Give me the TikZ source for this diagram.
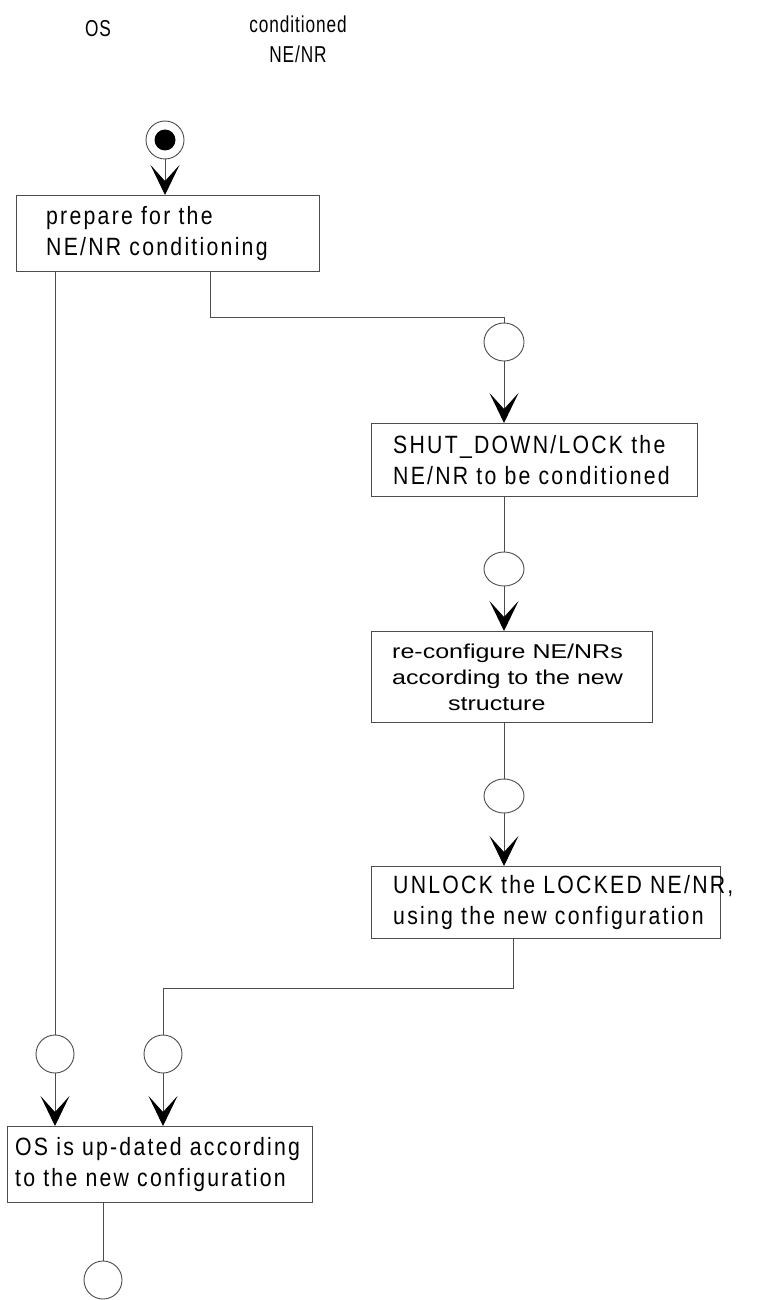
\documentclass[tikz,border=0pt]{standalone}
\usepackage{fontspec}
\setmainfont{Liberation Sans}
\newfontfamily\spfont[FakeStretch=0.85,LetterSpace=9]{Liberation Sans}
\newfontfamily\wfont[FakeStretch=1.25]{Liberation Sans}
\newfontfamily\tfont[FakeStretch=0.75,LetterSpace=4]{Liberation Sans}
\usetikzlibrary{arrows.meta,calc,shapes.geometric}
\definecolor{ln}{gray}{0.3}
\tikzset{
  box/.style={draw=ln, line width=0.9pt, rectangle, inner sep=0pt, anchor=north west},
  txt/.style={anchor=west, align=left, inner sep=0pt, font=\spfont\fontsize{25}{31}\selectfont},
  wtxt/.style={anchor=west, align=left, inner sep=0pt, font=\wfont\fontsize{20}{26}\selectfont},
  ttl/.style={inner sep=0pt, align=center, font=\tfont\fontsize{23}{30}\selectfont},
  conn/.style={draw=ln, line width=0.9pt},
  flow/.style={conn, -{Stealth[length=30pt,width=29pt,inset=16pt,black]}},
  circ/.style={draw=ln, line width=0.9pt, ellipse, inner sep=0pt, minimum width=38pt, minimum height=38pt}
}
\begin{document}
\begin{tikzpicture}[x=1pt,y=-1pt]
\useasboundingbox (0,0) rectangle (760,1300);
\fill[white] (0,0) rectangle (760,1300);

% titles
\node[ttl] (os) at (98,29) {OS};
\node[ttl] (cond) at (298,39) {conditioned\\NE/NR};

% start
\node[circ] (start) at (165,140) {};
\node[circle, fill=black, inner sep=0pt, minimum size=21pt] (startdot) at (start.center) {};

% boxes
\node[box, minimum width=303pt, minimum height=76pt] (b1) at (16,195) {};
\node[txt] (t1) at ($(b1.west)+(30,0)$) {prepare for the\\NE/NR conditioning};

\node[box, minimum width=326pt, minimum height=73pt] (b2) at (371,423) {};
\node[txt] (t2) at ($(b2.west)+(22,0)$) {SHUT\_DOWN/LOCK the\\NE/NR to be conditioned};

\node[box, minimum width=281pt, minimum height=91pt] (b3) at (371,631) {};
\node[wtxt] (t3) at ($(b3.west)+(21,0)$) {re-configure NE/NRs\\according to the new\\\hspace*{56pt}structure};

\node[box, minimum width=349pt, minimum height=72pt] (b4) at (371,866) {};
\node[txt] (t4) at ($(b4.west)+(22,0)$) {UNLOCK the LOCKED NE/NR,\\using the new configuration};

\node[box, minimum width=305pt, minimum height=76pt] (b5) at (7,1126) {};
\node[txt] (t5) at ($(b5.west)+(8,0)$) {OS is up-dated according\\to the new configuration};

% circles
\node[circ, minimum width=40pt] (c1) at (504,342) {};
\node[circ, minimum width=40pt, minimum height=34pt] (c2) at (504,569) {};
\node[circ, minimum width=40pt, minimum height=34pt] (c3) at (504,796) {};
\node[circ] (cL) at (55,1054) {};
\node[circ] (c5) at (163,1054) {};
\node[circ] (cE) at (103,1280) {};

\coordinate (j1) at (210,317);
\coordinate (j2) at (513,988);

% connectors
\draw[flow] (start) -- (b1.north -| start);
\draw[conn] (b1.south -| cL) -- (cL);
\draw[flow] (cL) -- (b5.north -| cL);
\draw[conn] (b1.south -| j1) -- (j1) -| (c1);
\draw[flow] (c1) -- (b2.north -| c1);
\draw[conn] (b2.south -| c2) -- (c2);
\draw[flow] (c2) -- (b3.north -| c2);
\draw[conn] (b3.south -| c3) -- (c3);
\draw[flow] (c3) -- (b4.north -| c3);
\draw[conn] (b4.south -| j2) -- (j2) -| (c5);
\draw[flow] (c5) -- (b5.north -| c5);
\draw[conn] (b5.south -| cE) -- (cE);
\end{tikzpicture}
\end{document}
